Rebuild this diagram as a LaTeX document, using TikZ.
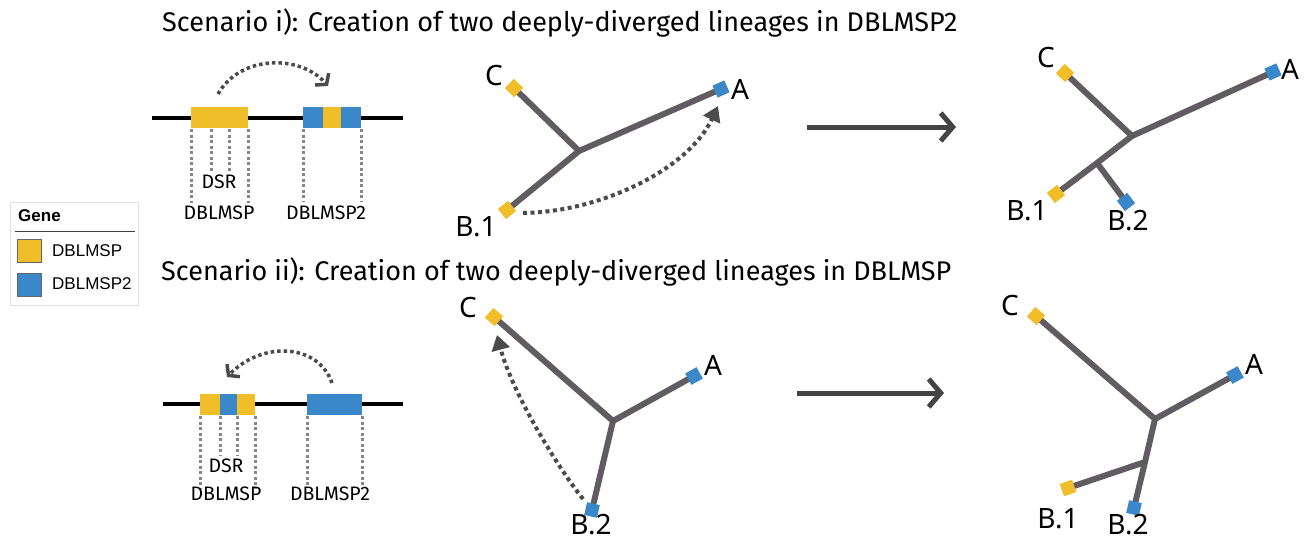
\documentclass[tikz,border=0pt]{standalone}
\usepackage{fontspec}
\setmainfont{Fira Sans}
\newfontfamily\legendfont{Liberation Sans}
\newfontfamily\taxonfont{Noto Sans}
\usetikzlibrary{arrows.meta,backgrounds}

\definecolor{geneyellow}{RGB}{240,190,40}
\definecolor{geneblue}{RGB}{58,135,201}
\definecolor{branchgray}{RGB}{97,92,98}
\definecolor{arcgray}{RGB}{75,75,75}
\definecolor{guidegray}{RGB}{135,135,135}
\definecolor{arrowgray}{RGB}{68,68,68}

\begin{document}
\begin{tikzpicture}[x=1pt,y=-1pt,
  branch/.style={line width=6pt, draw=branchgray},
  leaf/.style={rectangle, minimum size=13pt, inner sep=0pt},
  yleaf/.style={leaf, fill=geneyellow},
  bleaf/.style={leaf, fill=geneblue},
  junction/.style={circle, fill=black!65, inner sep=0pt, minimum size=4.5pt},
  taxon/.style={font=\taxonfont\fontsize{28}{32}\selectfont, inner sep=0pt},
  title/.style={font=\fontsize{27}{31}\selectfont, inner sep=0pt, anchor=base west},
  genelabel/.style={font=\fontsize{19.5}{22}\selectfont, inner sep=0pt},
  chrom/.style={line width=4pt, draw=black},
  guide/.style={draw=guidegray, line width=3pt, dash pattern=on 3pt off 2.5pt},
  move/.style={draw=arcgray, line width=4pt, dash pattern=on 4pt off 3.5pt},
  movebarb/.style={draw=arcgray, line width=3.5pt, dash pattern=on 3.5pt off 3pt,
    -{Straight Barb[length=7pt,width=18pt,line width=3.5pt]}},
  movetri/.style={move, -{Triangle[length=15pt,width=18pt,fill=arcgray]}},
  result/.style={draw=arrowgray, line width=5pt, -{Straight Barb[length=12pt,width=28pt]}},
  legtext/.style={font=\legendfont\fontsize{17}{20}\selectfont, inner sep=0pt, anchor=west},
]
\useasboundingbox (0,0) rectangle (1310,543);

% ---------- titles ----------
\node[title] (t1) at (162,32) {Scenario i): Creation of two deeply-diverged lineages in DBLMSP2};
\node[title] (t2) at (161,280) {Scenario ii): Creation of two deeply-diverged lineages in DBLMSP};

% ---------- legend ----------
\draw[draw=black!12, line width=1pt] (10,202) rectangle (138,305);
\node[font=\legendfont\bfseries\fontsize{17}{20}\selectfont, inner sep=0pt, anchor=west] (legtitle) at (18,216) {Gene};
\draw[black!75, line width=1pt] (15,231) -- (135,231);
\draw[fill=geneyellow, draw=black!60, line width=0.6pt] (17,239) rectangle (41,262);
\draw[fill=geneblue, draw=black!60, line width=0.6pt] (17,273) rectangle (41,296);
\node[legtext] (legy) at (52,251) {DBLMSP};
\node[legtext] (legb) at (52,284) {DBLMSP2};

% ---------- scenario i: gene layout ----------
\draw[chrom] (152,118) -- (403,118);
\fill[geneyellow] (191,107) rectangle (248,128);
\fill[geneblue] (303,107) rectangle (323,128);
\fill[geneyellow] (323,107) rectangle (341,128);
\fill[geneblue] (341,107) rectangle (361,128);
\draw[guide] (191,129) -- (191,203);
\draw[guide] (248,129) -- (248,203);
\draw[guide] (211,129) -- (211,172);
\draw[guide] (229,129) -- (229,172);
\draw[guide] (303,129) -- (303,201);
\draw[guide] (361,129) -- (361,201);
\node[genelabel] (dsr1) at (219,182) {DSR};
\node[genelabel] (dbl1) at (219,213) {DBLMSP};
\node[genelabel] (dbl21) at (326,213) {DBLMSP2};
\coordinate (s1) at (218,94);
\coordinate (e1) at (328,86);
\draw[movebarb] (s1) .. controls (240,55) and (300,54) .. (e1);

% ---------- scenario ii: gene layout ----------
\draw[chrom] (163,404) -- (403,404);
\fill[geneyellow] (200,394) rectangle (220,415);
\fill[geneblue] (220,394) rectangle (237,415);
\fill[geneyellow] (237,394) rectangle (255,415);
\fill[geneblue] (307,394) rectangle (362,415);
\draw[guide] (200,416) -- (200,488);
\draw[guide] (255,416) -- (255,488);
\draw[guide] (220,416) -- (220,456);
\draw[guide] (237,416) -- (237,456);
\draw[guide] (307,416) -- (307,485);
\draw[guide] (362,416) -- (362,485);
\node[genelabel] (dsr2) at (226,466) {DSR};
\node[genelabel] (dbl2) at (226,494) {DBLMSP};
\node[genelabel] (dbl22) at (330,494) {DBLMSP2};
\coordinate (s2) at (332,383);
\coordinate (e2) at (227,377);
\draw[movebarb] (s2) .. controls (318,343) and (262,341) .. (e2);

% ---------- tree 1 ----------
\node[yleaf, rotate=46] (c1) at (514,88) {};
\node[bleaf, rotate=24] (a1) at (721,89) {};
\node[yleaf, rotate=39] (b11) at (507,210) {};
\node[junction] (n1) at (579,151) {};
\begin{scope}[on background layer]
  \draw[branch] (n1.center) -- (c1.center) (n1.center) -- (a1.center) (n1.center) -- (b11.center);
\end{scope}
\node[taxon] (lc1) at (494,76) {C};
\node[taxon] (la1) at (740,89) {A};
\node[taxon] (lb11) at (476,227) {B.1};
\coordinate (f1) at (523,213);
\coordinate (m1) at (718,106);
\draw[movetri] (f1) .. controls (600,212) and (688,170) .. (m1);

% ---------- tree 2 ----------
\node[yleaf, rotate=49] (c2) at (494,317) {};
\node[bleaf, rotate=29] (a2) at (694,376) {};
\node[bleaf, rotate=77] (b22) at (592,510) {};
\node[junction] (n2) at (613,421) {};
\begin{scope}[on background layer]
  \draw[branch] (n2.center) -- (c2.center) (n2.center) -- (a2.center) (n2.center) -- (b22.center);
\end{scope}
\node[taxon] (lc2) at (468,308) {C};
\node[taxon] (la2) at (713,365) {A};
\node[taxon] (lb22) at (591,525) {B.2};
\coordinate (f2) at (583,499);
\coordinate (m2) at (497,335);
\draw[movetri] (f2) .. controls (556,465) and (512,392) .. (m2);

% ---------- result arrows ----------
\coordinate (r1s) at (807,127);
\coordinate (r1e) at (956,127);
\draw[result] (r1s) -- (r1e);
\coordinate (r2s) at (797,393);
\coordinate (r2e) at (944,393);
\draw[result] (r2s) -- (r2e);

% ---------- tree 3 ----------
\node[yleaf, rotate=47] (c3) at (1065,73) {};
\node[bleaf, rotate=24] (a3) at (1273,72) {};
\node[yleaf, rotate=37] (b13) at (1056,194) {};
\node[bleaf, rotate=37] (b23) at (1126,202) {};
\node[junction] (n3) at (1132,136) {};
\node[junction] (k3) at (1097,163) {};
\begin{scope}[on background layer]
  \draw[branch] (n3.center) -- (c3.center) (n3.center) -- (a3.center) (n3.center) -- (k3.center)
    (k3.center) -- (b13.center) (k3.center) -- (b23.center);
\end{scope}
\node[taxon] (lc3) at (1046,58) {C};
\node[taxon] (la3) at (1290,69) {A};
\node[taxon] (lb13) at (1027,211) {B.1};
\node[taxon] (lb23) at (1128,221) {B.2};

% ---------- tree 4 ----------
\node[yleaf, rotate=49] (c4) at (1036,316) {};
\node[bleaf, rotate=29] (a4) at (1235,375) {};
\node[yleaf, rotate=19] (b14) at (1068,488) {};
\node[bleaf, rotate=77] (b24) at (1134,508) {};
\node[junction] (n4) at (1155,419) {};
\node[junction] (k4) at (1145,462) {};
\begin{scope}[on background layer]
  \draw[branch] (n4.center) -- (c4.center) (n4.center) -- (a4.center) (n4.center) -- (k4.center)
    (k4.center) -- (b14.center) (k4.center) -- (b24.center);
\end{scope}
\node[taxon] (lc4) at (1010,306) {C};
\node[taxon] (la4) at (1254,364) {A};
\node[taxon] (lb14) at (1058,519) {B.1};
\node[taxon] (lb24) at (1128,525) {B.2};
\end{tikzpicture}
\end{document}
